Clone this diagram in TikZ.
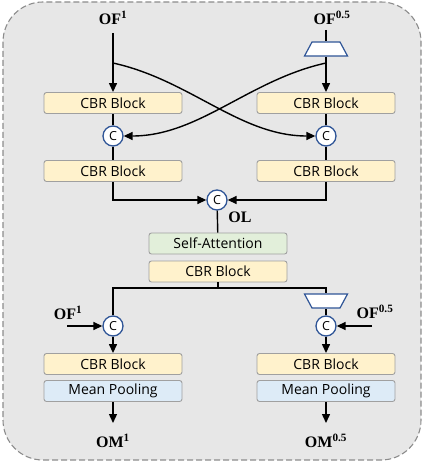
\documentclass[tikz,border=0pt]{standalone}
\usepackage{fontspec}
\setmainfont{Liberation Serif}
\setsansfont{Open Sans}
\usepackage{tikz}
\usetikzlibrary{shapes.geometric,arrows.meta,positioning,calc}
\definecolor{boxyellow}{RGB}{255,242,204}
\definecolor{boxgreen}{RGB}{226,239,218}
\definecolor{boxblue}{RGB}{221,235,247}
\definecolor{boxedge}{RGB}{160,160,160}
\definecolor{catblue}{RGB}{47,85,151}
\definecolor{panelgray}{RGB}{231,231,231}
\definecolor{paneledge}{RGB}{140,140,140}

\begin{document}
\begin{tikzpicture}[
    x=1pt, y=-1pt,
    block/.style={rectangle, draw=boxedge, line width=0.9pt, rounded corners=2.5pt, minimum width=138pt, minimum height=21pt, inner sep=0pt, font=\sffamily\fontsize{14}{16}\selectfont},
    cbr/.style={block, fill=boxyellow},
    attn/.style={block, fill=boxgreen},
    pool/.style={block, fill=boxblue},
    cat/.style={circle, draw=catblue, fill=white, line width=1.3pt, minimum size=20pt, inner sep=0pt, font=\sffamily\fontsize{12.5}{13}\selectfont},
    scaler/.style={rectangle, minimum width=46pt, minimum height=15.5pt, inner sep=0pt},
    trap/.style={draw=catblue, fill=white, line width=1.2pt, line join=miter},
    scaleup/.style={scaler, path picture={
        \draw[trap] ([shift={(-21.5pt,-7pt)}]path picture bounding box.center) -- ([shift={(21.5pt,-7pt)}]path picture bounding box.center)
            -- ([shift={(14pt,7pt)}]path picture bounding box.center) -- ([shift={(-14pt,7pt)}]path picture bounding box.center) -- cycle;}},
    scaledown/.style={scaler, path picture={
        \draw[trap] ([shift={(-21.5pt,7pt)}]path picture bounding box.center) -- ([shift={(21.5pt,7pt)}]path picture bounding box.center)
            -- ([shift={(14pt,-7pt)}]path picture bounding box.center) -- ([shift={(-14pt,-7pt)}]path picture bounding box.center) -- cycle;}},
    lab/.style={font=\bfseries\fontsize{16}{18}\selectfont, inner sep=0pt},
    arrow/.style={-{Triangle[length=9pt,width=8pt]}, line width=1.4pt},
    line/.style={line width=1.4pt}
]
    \useasboundingbox (0,0) rectangle (424,462);
    \draw[fill=panelgray, draw=paneledge, line width=1.1pt, dash pattern=on 6pt off 3pt, rounded corners=40pt] (3,2) rectangle (421,460);

    % inputs
    \node[lab] (ofL) at (113,18) {OF\textsuperscript{1}};
    \node[lab] (ofR) at (332,18) {OF\textsuperscript{0.5}};
    \coordinate (topL) at (113,33);
    \coordinate (topR) at (326,30);
    \node[scaleup] (upR) at (326,49) {};

    % two branches
    \node[cbr] (cbrL1) at (113,103) {CBR Block};
    \node[cbr] (cbrR1) at (326,103) {CBR Block};
    \node[cat] (catL) at (113,136) {C};
    \node[cat] (catR) at (326,136) {C};
    \node[cbr] (cbrL2) at (113,171) {CBR Block};
    \node[cbr] (cbrR2) at (326,171) {CBR Block};
    \coordinate (brL) at (113,63);
    \coordinate (brR) at (326,63);

    % fusion
    \node[cat] (catM) at (217,200) {C};
    \node[lab] (ol) at (240,217) {OL};
    \node[attn] (att) at (218,243.5) {Self-Attention};
    \node[cbr] (cbrM) at (218,271.5) {CBR Block};
    \coordinate (split) at (218,288);

    % outputs
    \node[lab] (ofL2) at (68,313) {OF\textsuperscript{1}};
    \node[lab] (ofR2) at (375,312) {OF\textsuperscript{0.5}};
    \coordinate (inL) at (67,326);
    \coordinate (inR) at (372,326);
    \node[scaledown] (downR) at (326,301) {};
    \node[cat] (catL3) at (113,326) {C};
    \node[cat] (catR3) at (326,326) {C};
    \node[cbr] (cbrL3) at (113,364) {CBR Block};
    \node[cbr] (cbrR3) at (326,364) {CBR Block};
    \node[pool] (mpL) at (113,391) {Mean Pooling};
    \node[pool] (mpR) at (326,391) {Mean Pooling};
    \coordinate (outL) at (113,423);
    \coordinate (outR) at (326,423);
    \node[lab] (omL) at (113,441) {OM\textsuperscript{1}};
    \node[lab] (omR) at (326,441) {OM\textsuperscript{0.5}};

    \draw[arrow] (topL) -- (cbrL1);
    \draw[line] (topR) -- (upR);
    \draw[arrow] (upR) -- (cbrR1);
    \draw[arrow] (brL) .. controls (190,80) and (240,136) .. (catR.west);
    \draw[arrow] (brR) .. controls (249,80) and (199,136) .. (catL.east);
    \draw[line] (cbrL1) -- (catL);
    \draw[line] (cbrR1) -- (catR);
    \draw[line] (catL) -- (cbrL2);
    \draw[line] (catR) -- (cbrR2);
    \draw[arrow] (cbrL2.south) |- (catM);
    \draw[arrow] (cbrR2.south) |- (catM);
    \draw[line] (catM) -- (att);
    \draw[line] (cbrM) -- (split);
    \draw[line] (split) -| (catL3);
    \draw[line] (split) -| (downR);
    \draw[line] (downR) -- (catR3);
    \draw[arrow] (inL) -- (catL3);
    \draw[arrow] (inR) -- (catR3);
    \draw[arrow] (catL3) -- (cbrL3);
    \draw[arrow] (catR3) -- (cbrR3);
    \draw[arrow] (mpL) -- (outL);
    \draw[arrow] (mpR) -- (outR);
\end{tikzpicture}
\end{document}
